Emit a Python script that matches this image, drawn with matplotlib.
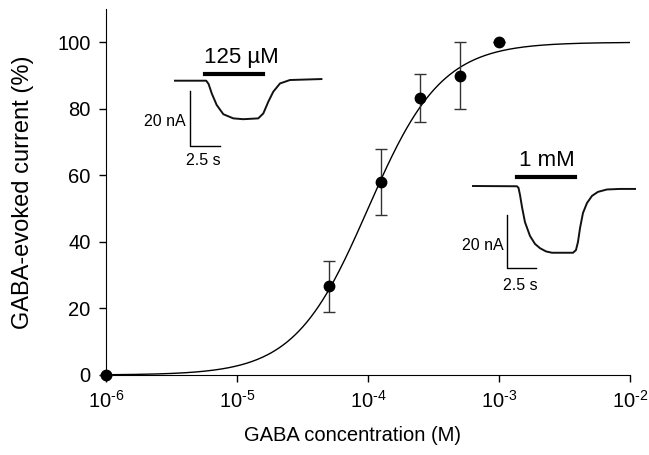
#!/usr/bin/env python3
# GABA dose-response curve with two current traces as insets
import numpy as np
import matplotlib
matplotlib.use("Agg")
import matplotlib.pyplot as plt

plt.rcParams["font.family"] = ["Liberation Sans", "DejaVu Sans"]
plt.rcParams["mathtext.fontset"] = "custom"
plt.rcParams["mathtext.rm"] = "Liberation Sans"
plt.rcParams["mathtext.it"] = "Liberation Sans:italic"

# data: concentration (M), response (%), error (%)
conc = [1e-6, 5e-5, 1.25e-4, 2.5e-4, 5e-4, 1e-3]
resp = [0, 26.7, 58.0, 83.3, 90.0, 100.0]
err = [0, 7.7, 9.9, 7.3, 10.0, 0]

# Hill fit parameters
ec50 = 1.0e-4
n_hill = 1.55

x_ticks = [1e-6, 1e-5, 1e-4, 1e-3, 1e-2]
x_ticklabels = [r"10$^{\text{-}6}$", r"10$^{\text{-}5}$", r"10$^{\text{-}4}$",
                r"10$^{\text{-}3}$", r"10$^{\text{-}2}$"]
y_ticks = [0, 20, 40, 60, 80, 100]

# traces: time (s), current (nA)
t_125 = [0, 2.6, 2.8, 3.06, 3.47, 4.03, 4.86, 5.69, 6.94, 7.36, 7.78, 8.19, 8.75, 9.58, 12.2]
i_125 = [0, 0, -1.2, -4.6, -8.8, -12.2, -13.7, -14.0, -13.7, -11.9, -7.6, -4.0, -1.0, 0.25, 0.6]
t_1mm = [0, 3.76, 3.89, 4.02, 4.19, 4.44, 4.87, 5.30, 5.73, 6.24, 6.75, 8.55, 8.80,
         8.97, 9.15, 9.40, 9.74, 10.17, 10.68, 11.45, 12.56, 13.85]
i_1mm = [0, -0.1, -0.7, -3.4, -7.9, -13.5, -18.7, -21.7, -23.3, -24.5, -25.0, -25.0, -24.0,
         -21.0, -15.7, -10.1, -6.4, -3.7, -2.2, -1.3, -1.1, -1.1]

W, H = 649, 455
fig = plt.figure(figsize=(W / 100, H / 100), dpi=100)
ax = fig.add_axes([106 / W, 80 / H, 524 / W, 366 / H])

xs = np.logspace(-6, -2, 400)
ax.plot(xs, 100 / (1 + (ec50 / xs) ** n_hill), color="black", lw=1.0)
ax.errorbar(conc, resp, yerr=err, fmt="o", color="black", ms=7.5, ecolor="#333333",
            elinewidth=1.0, capsize=4, capthick=1.0, clip_on=False, zorder=3)

ax.set_xscale("log")
ax.set_xlim(1e-6, 1e-2)
ax.set_ylim(0, 110)
ax.set_xticks(x_ticks)
ax.set_xticklabels(x_ticklabels)
ax.minorticks_off()
ax.set_yticks(y_ticks)
ax.spines["top"].set_visible(False)
ax.spines["right"].set_visible(False)
ax.tick_params(direction="out", length=5, width=1, labelsize=14.5, pad=6)
ax.set_xlabel("GABA concentration (M)", fontsize=14.5)
ax.xaxis.set_label_coords(0.47, -0.14)
ax.set_ylabel("GABA-evoked current (%)", fontsize=17)
ax.yaxis.set_label_coords(-0.138, 0.5)


def add_trace(box, origin, sx, sy):
    # box: left, top, right, bottom in pixels; origin: pixel of t=0, I=0
    l, t, r, b = box
    ia = fig.add_axes([l / W, (H - b) / H, (r - l) / W, (b - t) / H])
    ox, oy = origin
    ia.set_xlim((l - ox) / sx, (r - ox) / sx)
    ia.set_ylim((oy - b) / sy, (oy - t) / sy)
    ia.axis("off")
    return ia


# 125 uM trace
a1 = add_trace((140, 40, 330, 170), (175, 80.7), 12.0, 2.75)
a1.plot(t_125, i_125, color="#111111", lw=1.4)
a1.plot([2.5, 7.3], [2.33, 2.33], color="black", lw=3)
a1.text(5.56, 8.3, "125 µM", fontsize=16, ha="center", va="center")
a1.plot([1.25, 1.25, 3.75], [-3.75, -23.75, -23.75], color="black", lw=1)
a1.text(0.9, -14.7, "20 nA", fontsize=11.5, ha="right", va="center")
a1.text(2.36, -29.0, "2.5 s", fontsize=11.5, ha="center", va="center")

# 1 mM trace
a2 = add_trace((455, 145, 645, 300), (473, 186), 11.7, 2.67)
a2.plot(t_1mm, i_1mm, color="#111111", lw=1.4)
a2.plot([3.74, 8.72], [3.4, 3.4], color="black", lw=3)
a2.text(6.32, 9.4, "1 mM", fontsize=16, ha="center", va="center")
a2.plot([2.88, 2.88, 5.38], [-10.9, -30.8, -30.8], color="black", lw=1)
a2.text(2.65, -22.2, "20 nA", fontsize=11.5, ha="right", va="center")
a2.text(4.08, -37.1, "2.5 s", fontsize=11.5, ha="center", va="center")

fig.savefig("out.png", dpi=100)
